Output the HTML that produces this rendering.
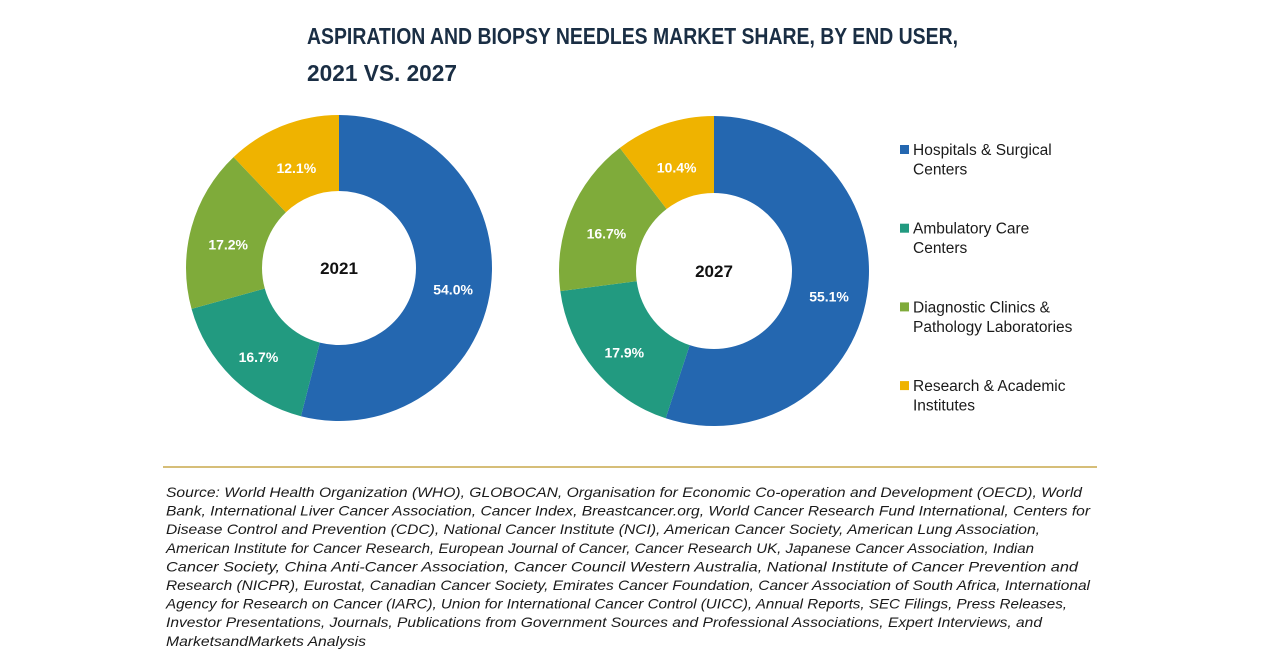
<!DOCTYPE html>
<html><head><meta charset="utf-8"><style>
html,body{margin:0;padding:0;background:#fff;}
svg{display:block;}
</style></head><body>
<svg id="chart" width="1280" height="670" viewBox="0 0 1280 670" xmlns="http://www.w3.org/2000/svg">
<g font-family="'Liberation Sans', sans-serif" font-weight="bold" font-size="23" fill="#1a2e44">
<text x="307" y="44" textLength="651" lengthAdjust="spacingAndGlyphs">ASPIRATION AND BIOPSY NEEDLES MARKET SHARE, BY END USER,</text>
<text x="307" y="81" textLength="150" lengthAdjust="spacingAndGlyphs">2021 VS. 2027</text>
</g>
<g id="donuts"></g>
<g id="legend" font-family="'Liberation Sans', sans-serif" font-size="15.5" fill="#1a1a1a"></g>
<line x1="163" y1="467" x2="1097" y2="467" stroke="#c9a84c" stroke-width="1.5"/>
<g id="source" font-family="'Liberation Sans', sans-serif" font-style="italic" font-size="14" fill="#1a1a1a"></g>
</svg>
<script>
const categories = ["Hospitals & Surgical Centers","Ambulatory Care Centers","Diagnostic Clinics & Pathology Laboratories","Research & Academic Institutes"];
const legendLines = [["Hospitals & Surgical","Centers"],["Ambulatory Care","Centers"],["Diagnostic Clinics &","Pathology Laboratories"],["Research & Academic","Institutes"]];
const colors = ["#2467b0","#229a80","#7fab3a","#efb300"];
const years = ["2021","2027"];
const values2021 = [54.0,16.7,17.2,12.1];
const values2027 = [55.1,17.9,16.7,10.4];
const sourceLines = [
"Source: World Health Organization (WHO), GLOBOCAN, Organisation for Economic Co-operation and Development (OECD), World",
"Bank, International Liver Cancer Association, Cancer Index, Breastcancer.org, World Cancer Research Fund International, Centers for",
"Disease Control and Prevention (CDC), National Cancer Institute (NCI), American Cancer Society, American Lung Association,",
"American Institute for Cancer Research, European Journal of Cancer, Cancer Research UK, Japanese Cancer Association, Indian",
"Cancer Society, China Anti-Cancer Association, Cancer Council Western Australia, National Institute of Cancer Prevention and",
"Research (NICPR), Eurostat, Canadian Cancer Society, Emirates Cancer Foundation, Cancer Association of South Africa, International",
"Agency for Research on Cancer (IARC), Union for International Cancer Control (UICC), Annual Reports, SEC Filings, Press Releases,",
"Investor Presentations, Journals, Publications from Government Sources and Professional Associations, Expert Interviews, and",
"MarketsandMarkets Analysis"];
const sourceEnds = [1082,1090,1040,1034,1078,1090,1067,1042,366];

const NS="http://www.w3.org/2000/svg";
function mk(tag, attrs, parent){const e=document.createElementNS(NS,tag);for(const k in attrs)e.setAttribute(k,attrs[k]);parent.appendChild(e);return e;}
const donutCfg=[{cx:339,cy:268,r:153,ir:77,vals:values2021,year:years[0]},{cx:714,cy:271,r:155,ir:78,vals:values2027,year:years[1]}];
const dg=document.getElementById('donuts');
function pt(cx,cy,r,a){return [cx+r*Math.sin(a),cy-r*Math.cos(a)];}
donutCfg.forEach((d,di)=>{
  const g=mk('g',{},dg);
  
  
  const tot=d.vals.reduce((a,b)=>a+b,0);
  let acc=0;
  d.vals.forEach((v,i)=>{
    const a0=acc/tot*2*Math.PI, a1=(acc+v)/tot*2*Math.PI; acc+=v;
    const large=(a1-a0)>Math.PI?1:0;
    const [x0,y0]=pt(d.cx,d.cy,d.r,a0),[x1,y1]=pt(d.cx,d.cy,d.r,a1);
    const [x2,y2]=pt(d.cx,d.cy,d.ir,a1),[x3,y3]=pt(d.cx,d.cy,d.ir,a0);
    const p=mk('path',{d:`M${x0},${y0}A${d.r},${d.r} 0 ${large} 1 ${x1},${y1}L${x2},${y2}A${d.ir},${d.ir} 0 ${large} 0 ${x3},${y3}Z`,fill:colors[i]},g);
    
    
    const am=(a0+a1)/2; const [lx,ly]=pt(d.cx,d.cy,(d.r+d.ir)/2,am);
    const t=mk('text',{x:lx,y:ly+12,'text-anchor':'middle','font-family':"'Liberation Sans', sans-serif",'font-weight':'bold','font-size':'14',fill:'#fff'},g);
    t.textContent=v.toFixed(1)+'%';
    
    
  });
  const c=mk('text',{x:d.cx,y:d.cy+6,'text-anchor':'middle','font-family':"'Liberation Sans', sans-serif",'font-weight':'bold','font-size':'17',fill:'#111'},g);
  c.textContent=d.year;
  
  
});
const lg=document.getElementById('legend');


legendLines.forEach((ls,i)=>{
  const y=150+i*78.7;
  const g=mk('g',{},lg);
  
  
  mk('rect',{x:900,y:y-5,width:9,height:9,fill:colors[i]},g);
  ls.forEach((s,j)=>{const t=mk('text',{x:913,y:y+5+j*19.5},g);t.textContent=s;});
});
const sg=document.getElementById('source');
sourceLines.forEach((s,i)=>{
  const t=mk('text',{x:166,y:497+i*18.6,textLength:sourceEnds[i]-166,lengthAdjust:'spacingAndGlyphs'},sg);
  t.textContent=s;
});
</script>
</body></html>
